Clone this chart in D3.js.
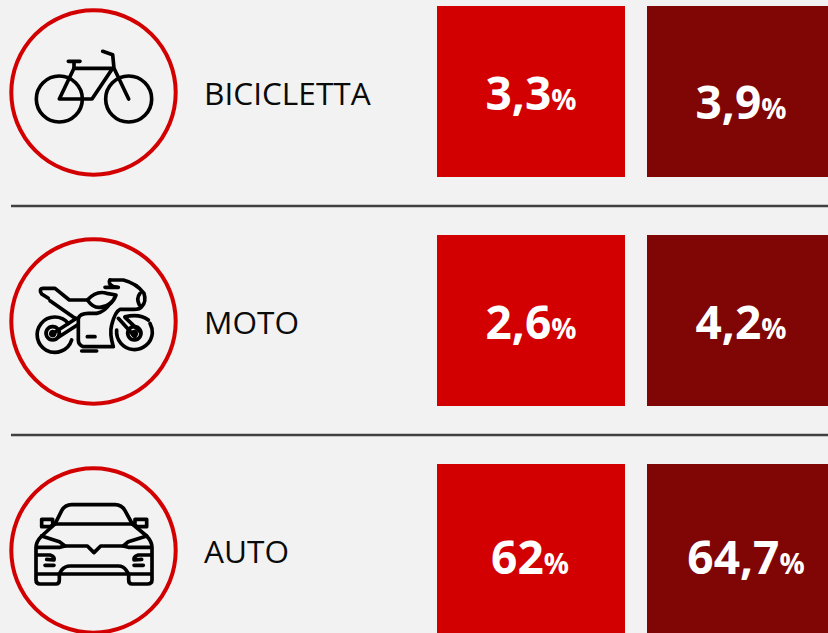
<!DOCTYPE html>
<html><head><meta charset="utf-8">
<script src="https://cdn.jsdelivr.net/npm/d3@7"></script>
<style>html,body{margin:0;padding:0;background:#f2f2f2;overflow:hidden}svg{display:block}</style>
</head><body><svg id="c" width="828" height="633"></svg>
<script>
const categories = ["BICICLETTA", "MOTO", "AUTO"];
const seriesA = [3.3, 2.6, 62];
const seriesB = [3.9, 4.2, 64.7];

const FONT = "'Open Sans','Noto Sans',sans-serif";
const svg = d3.select("#c");
const y = d3.scalePoint().domain(categories).range([92.5, 550.5]);
const fmt = v => String(v).replace(".", ",");

// text placement relative to row centre / box centre
const baseA = {BICICLETTA: 17, MOTO: 17, AUTO: 23};
const baseB = {BICICLETTA: 26, MOTO: 17, AUTO: 23};
const shiftA = {BICICLETTA: 0, MOTO: 0, AUTO: -1};
const shiftB = {BICICLETTA: 0, MOTO: 0, AUTO: 5};

// dividers
svg.selectAll("line.div").data(categories.slice(0, -1)).join("line")
  .attr("x1", 11).attr("x2", 828)
  .attr("y1", d => y(d) + 113.5).attr("y2", d => y(d) + 113.5)
  .attr("stroke", "#404040").attr("stroke-width", 2.6);

// circles
svg.selectAll("circle.ring").data(categories).join("circle")
  .attr("cx", 93.5).attr("cy", d => y(d)).attr("r", 82.2)
  .attr("fill", "none").attr("stroke", "#d20000").attr("stroke-width", 4);

// labels
svg.selectAll("text.lab").data(categories).join("text")
  .attr("x", 204).attr("y", d => y(d) + 12)
  .attr("font-family", FONT).attr("font-size", 31.6).attr("fill", "#0a0a0a")
  .text(d => d);

function boxes(vals, x0, w, fill, base, shift) {
  const g = svg.append("g");
  g.selectAll("rect").data(categories).join("rect")
    .attr("x", x0).attr("y", d => y(d) - 86.5).attr("width", w).attr("height", 171)
    .attr("fill", fill);
  const t = g.selectAll("text").data(categories).join("text")
    .attr("x", d => x0 + w / 2 + shift[d]).attr("y", d => y(d) + base[d])
    .attr("text-anchor", "middle").attr("fill", "#fff")
    .attr("font-family", FONT).attr("font-weight", 700);
  t.append("tspan").attr("font-size", 46).text((d, i) => fmt(vals[i]));
  t.append("tspan").attr("font-size", 28).text("%");
}
boxes(seriesA, 437, 188, "#d20000", baseA, shiftA);
boxes(seriesB, 647, 188, "#800505", baseB, shiftB);

// icons, drawn in 3x coordinates around each ring
const icons = {
  BICICLETTA: {off: 0, sw: 11, shapes: [
    "M178 297L222 205H338L276 297H178Z",
    "M205 184H240M222 184V205",
    "M308 154L338 164L342 205L386 297",
    "M109 297a69 69 0 1 0 138 0a69 69 0 1 0 -138 0",
    "M317 297a69 69 0 1 0 138 0a69 69 0 1 0 -138 0"
  ]},
  MOTO: {off: 230, sw: 11, shapes: [
    "M150 212L225 265",
    "M145 205L125 192Q115 176 130 175H165L208 210H262",
    "M262 210Q290 180 320 190L348 195Q335 230 300 232Q280 235 262 210",
    "M330 150H370Q410 160 432 190Q440 215 425 230Q420 238 400 238H360Q345 245 335 285Q328 310 340 350H250Q235 345 235 330V265L225 265",
    "M235 265Q240 250 265 250H290Q315 245 330 220",
    "M330 150Q322 160 340 170L355 172M315 172H355",
    "M420 190Q408 205 418 225",
    "M245 363H290M262 320H285",
    "M225 268L160 310M232 285L175 322",
    "M355 265L405 320M375 262L420 305",
    "M205 280A53 53 0 1 0 215 330",
    "M158 290a20 20 0 1 0 0.1 0M158 305a6 6 0 1 0 0.1 0",
    "M350 300A52 52 0 0 0 457 310Q458 295 450 280",
    "M375 260Q420 250 445 270",
    "M403 290a20 20 0 1 0 0.1 0M403 305a6 6 0 1 0 0.1 0"
  ]},
  AUTO: {off: 460, sw: 11, shapes: [
    "M165 192L185 152Q195 134 215 134H345Q365 134 375 152L397 192",
    "M165 192H397",
    "M165 192L125 228Q108 245 108 262V360Q108 372 120 372H168Q178 372 178 360V342H386V360Q386 372 396 372H442Q456 372 456 360V262Q456 245 440 228L397 192",
    "M112 342H178M386 342H452",
    "M125 228L178 245L195 258H262L282 278L302 258H370L385 245L440 228",
    "M112 262H180L195 258M370 258L385 262H452",
    "M165 190L150 200H125V178H158V190M398 190L412 200H440V178H405V190",
    "M112 285H150Q165 290 162 300L140 298M162 316H135M452 285H415Q400 290 402 300L425 298M402 316H430",
    "M178 342L185 330Q195 318 210 318H355Q370 318 378 330L386 342"
  ]}
};
categories.forEach(c => {
  const ic = icons[c];
  const g = svg.append("g").attr("transform", `translate(0,${ic.off}) scale(${1/3})`);
  g.selectAll("path").data(ic.shapes).join("path")
    .attr("d", d => d).attr("fill", "none").attr("stroke", "#000")
    .attr("stroke-width", ic.sw).attr("stroke-linecap", "round").attr("stroke-linejoin", "round");
});
</script></body></html>
